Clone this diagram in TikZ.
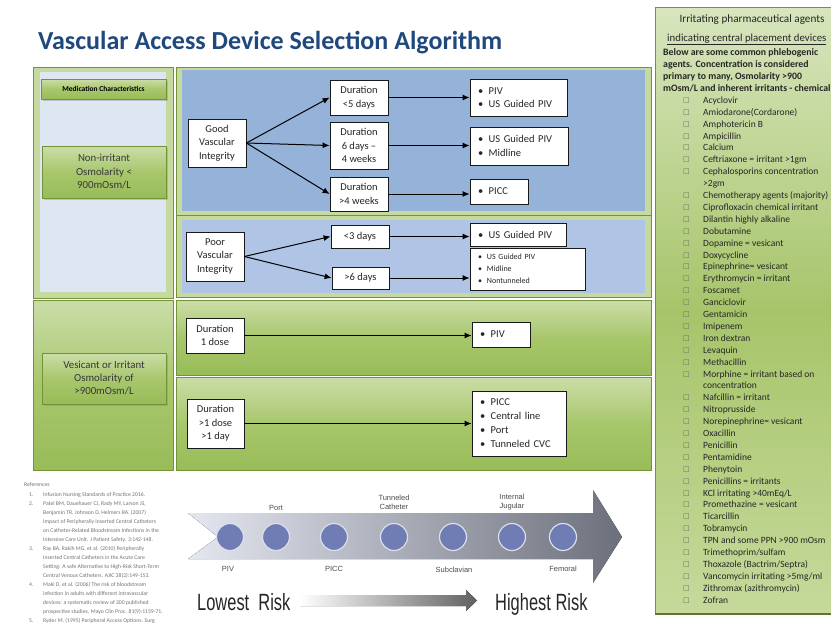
\documentclass[tikz,border=0pt]{standalone}
\usepackage{fontspec}
\setmainfont{Carlito}
\newfontfamily\arialf{Liberation Sans}
\newfontfamily\narrowf[FakeStretch=0.7]{Liberation Sans}
\newfontfamily\dvs{DejaVu Sans}
\usetikzlibrary{arrows.meta,shadows}
\newcommand\fsz[2]{\fontsize{#1}{#2}\selectfont}
\newcommand\bul{\textbullet\hspace{5.5pt}}
\definecolor{titleblue}{RGB}{31,73,125}
\definecolor{glight}{RGB}{203,221,168}
\definecolor{gmid}{RGB}{168,199,108}
\definecolor{gsat}{RGB}{152,188,88}
\definecolor{gdark}{RGB}{116,146,58}
\definecolor{blueA}{RGB}{149,179,216}
\definecolor{blueB}{RGB}{176,197,229}
\definecolor{lbg}{RGB}{221,230,241}
\definecolor{dotblue}{RGB}{112,125,180}
\definecolor{lsttop}{RGB}{216,229,190}
\definecolor{lstmid}{RGB}{166,197,106}
\definecolor{lstbot}{RGB}{198,217,155}
\begin{document}
\begin{tikzpicture}[x=1pt,y=-1pt,
  wbox/.style={draw=black!90, line width=0.8pt, fill=white, align=center, inner sep=0pt, text=black!85, font=\fsz{10.5}{13.5}},
  rbox/.style={draw=black!90, line width=0.8pt, fill=white, align=left, inner xsep=8pt, inner ysep=0pt, text=black!85, font=\fsz{10.5}{13.5}},
  gbox/.style={draw=gdark, line width=0.6pt, top color=glight, bottom color=gsat, middle color=gmid, drop shadow={shadow xshift=1.5pt, shadow yshift=-1.5pt, opacity=0.35}, align=center, inner sep=0pt, text=black!78},
  gframe/.style={draw=gdark, line width=0.8pt, fill=glight!85!gmid},
  gpanel/.style={draw=gdark, line width=0.8pt, top color=glight, bottom color=gsat, middle color=gmid},
  arr/.style={-{Latex[length=7pt,width=6pt]}, line width=1pt, black},
  dot/.style={circle, minimum size=27pt, inner sep=0pt, fill=dotblue, draw=white!75!dotblue, line width=1.2pt},
  lbl/.style={font=\arialf\fsz{7.5}{9}, text=black!70, align=center, inner sep=0pt},
  reft/.style={font=\fsz{5.7}{9}, text=black!55, inner sep=0pt, anchor=base west},
  lst/.style={font=\fsz{9.5}{12}, text=black!85, inner sep=0pt, anchor=base west},
]
\useasboundingbox (0,0) rectangle (831,627);
\fill[white] (0,0) rectangle (831,627);

% title
\node[anchor=base west, inner sep=0pt, text=titleblue, font=\fsz{26}{30}\bfseries] (title) at (38,49.5) {Vascular Access Device Selection Algorithm};

% left column
\draw[gframe] (33,67) rectangle (173,298);
\fill[lbg] (40,72) rectangle (166,292);
\node[gbox, minimum width=125pt, minimum height=20pt, font=\fsz{7.5}{9}\bfseries, text=black] (med) at (103.5,89) {Medication Characteristics};
\node[gbox, minimum width=124pt, minimum height=52pt, font=\fsz{10.8}{13.5}] (nonirr) at (104,172) {Non-irritant\\Osmolarity <\\900mOsm/L};
\draw[gpanel] (33,300) rectangle (173,470);
\node[gbox, minimum width=124pt, minimum height=51pt, font=\fsz{10.8}{13}] (ves) at (104,378.5) {Vesicant or Irritant\\Osmolarity of\\>900mOsm/L};

% right panels
\draw[gframe] (176,67) rectangle (651,215);
\fill[blueA] (182,70) rectangle (645,211);
\draw[gframe] (176,215) rectangle (651,297);
\fill[blueB] (182,220) rectangle (645,293);
\draw[gpanel] (176,300) rectangle (651,375);
\draw[gpanel] (176,377) rectangle (651,470);

% good vascular integrity
\node[wbox, minimum width=58pt, minimum height=48pt] (good) at (217,143) {Good\\Vascular\\Integrity};
\node[wbox, minimum width=58pt, minimum height=35pt] (d1) at (359,97.5) {Duration\\<5 days};
\node[wbox, minimum width=58pt, minimum height=47pt] (d2) at (359,145.5) {Duration\\6 days --\\4 weeks};
\node[wbox, minimum width=58pt, minimum height=34pt] (d3) at (359,194) {Duration\\>4 weeks};
\node[rbox, text width=81pt, minimum height=37pt] (r1) at (518.5,97.5) {\bul PIV\\\bul US Guided PIV};
\node[rbox, text width=82pt, minimum height=38pt] (r2) at (519,146) {\bul US Guided PIV\\\bul Midline};
\node[rbox, text width=42pt, minimum height=25pt] (r3) at (499,191.5) {\bul PICC};
\draw[arr] (good.east) -- (d1.west);
\draw[arr] (good.east) -- (d2.west);
\draw[arr] (good.east) -- (d3.west);
\draw[arr] (d1.east) -- (d1.east -| r1.west);
\draw[arr] (d2.east) -- (d2.east -| r2.west);
\draw[arr] (d3.east) -- (d3.east -| r3.west);

% poor vascular integrity
\node[wbox, minimum width=58pt, minimum height=49pt] (poor) at (215,256.5) {Poor\\Vascular\\Integrity};
\node[wbox, minimum width=58pt, minimum height=23pt] (e1) at (360,236.5) {<3 days};
\node[wbox, minimum width=57pt, minimum height=22pt] (e2) at (360.5,278) {>6 days};
\node[rbox, text width=80pt, minimum height=23pt] (s1) at (518,234.5) {\bul US Guided PIV};
\node[rbox, text width=99pt, minimum height=42pt, font=\fsz{8}{12}] (s2) at (527.5,269) {\textbullet\hspace{5pt}US Guided PIV\\\textbullet\hspace{5pt}Midline\\\textbullet\hspace{5pt}Nontunneled};
\draw[arr] (poor.east) -- (e1.west);
\draw[arr] (poor.east) -- (e2.west);
\draw[arr] (e1.east) -- (e1.east -| s1.west);
\draw[arr] (e2.east) -- (e2.east -| s2.west);

% vesicant
\node[wbox, minimum width=58pt, minimum height=35pt] (f1) at (215,335.5) {Duration\\1 dose};
\node[rbox, text width=42pt, minimum height=25pt] (p1) at (501,334.5) {\bul PIV};
\node[wbox, minimum width=57pt, minimum height=49pt] (f2) at (215.5,423.5) {Duration\\>1 dose\\>1 day};
\node[rbox, text width=78pt, minimum height=65pt, font=\fsz{10.5}{14}] (p2) at (519,423.5) {\bul PICC\\\bul Central line\\\bul Port\\\bul Tunneled CVC};
\draw[arr] (f1.east) -- (f1.east -| p1.west);
\draw[arr] (f2.east) -- (f2.east -| p2.west);

% risk arrow
\fill[left color={rgb,255:red,228;green,231;blue,240}, right color={rgb,255:red,108;green,112;blue,124}]
  (188,513) -- (593,513) -- (593,490) -- (622,537) -- (593,583) -- (593,559) -- (188,559) -- (218,537) -- cycle;
\foreach \x [count=\i] in {230,276,334,394,453,512,563}
  \node[dot] (c\i) at (\x,537) {};
\node[lbl] (lpiv) at (228,569) {PIV};
\node[lbl] (lport) at (276,508) {Port};
\node[lbl] (lpicc) at (334,569) {PICC};
\node[lbl] (ltun) at (394,502) {Tunneled\\Catheter};
\node[lbl] (lsub) at (454,570) {Subclavian};
\node[lbl] (lint) at (512,502) {Internal\\Jugular};
\node[lbl] (lfem) at (563,569) {Femoral};
\fill[left color=white, right color=black!62] (300,595) -- (466,595) -- (466,590) -- (477,600.5) -- (466,611) -- (466,606) -- (300,606) -- cycle;
\node[anchor=base west, inner sep=0pt, font=\narrowf\fsz{23.5}{26}, text=black!85] (low) at (197,610) {Lowest\ \ Risk};
\node[anchor=base west, inner sep=0pt, font=\narrowf\fsz{23.5}{26}, text=black!85] (high) at (495,610) {Highest Risk};

% references
\node[reft] (refh) at (24,486.5) {References};
\node[reft] (n1) at (29,496) {1.};
\node[reft] (n2) at (29,505) {2.};
\node[reft] (n3) at (29,550) {3.};
\node[reft] (n4) at (29,586) {4.};
\node[reft] (n5) at (29,622) {5.};
\node[reft] (t1) at (43,496) {Infusion Nursing Standards of Practice 2016.};
\foreach \t [count=\k from 0] in {{Patel BM, Dauehauer CJ, Rady MY, Larson JS,},{Benjamin TR, Johnson D, Helmers RA. (2007)},{Impact of Peripherally Inserted Central Catheters},{on Catheter-Related Bloodstream Infections in the},{Intensive Care Unit. J Patient Safety. 3:142-148.}}
  \node[reft] (t2l\k) at (43,505+9*\k) {\t};
\foreach \t [count=\k from 0] in {{Ray BA, Rakih MG, et al. (2010) Peripherally},{Inserted Central Catheters in the Acute Care},{Setting: A safe Alternative to High-Risk Short-Term},{Central Venous Catheters. AJIC 38(2):149-153.}}
  \node[reft] (t3l\k) at (43,550+9*\k) {\t};
\foreach \t [count=\k from 0] in {{Maki D, et al. (2006) The risk of bloodstream},{infection in adults with different intravascular},{devices: a systematic review of 200 published},{prospective studies. Mayo Clin Proc. 81(9):1159-71.}}
  \node[reft] (t4l\k) at (43,586+9*\k) {\t};
\node[reft] (t5) at (43,622) {Ryder M. (1995) Peripheral Access Options. Surg};

% list panel
\begin{scope}
\clip (0,0) rectangle (831,627);
\draw[draw=gdark, line width=0.8pt, top color=lsttop, bottom color=lstbot, middle color=lstmid] (655,7) rectangle (850,614);
\draw[gdark!80!black, line width=1.6pt] (655,614) -- (850,614);
\node[font=\fsz{11.2}{12}, text=black!85, inner sep=0pt] (lh1) at (752,20) {Irritating pharmaceutical agents};
\node[font=\fsz{10.8}{12}, text=black!85, inner sep=0pt, anchor=base west] (lh2) at (667,41) {\underline{indicating central placement devices}};
\node[lst, font=\fsz{9.8}{12}\bfseries] (b1) at (663,55.5) {Below are some common phlebogenic};
\node[lst, font=\fsz{9.8}{12}\bfseries] (b2) at (663,67.5) {agents. Concentration is considered};
\node[lst, font=\fsz{9.8}{12}\bfseries] (b3) at (663,79.5) {primary to many, Osmolarity >900};
\node[lst, font=\fsz{9.8}{12}\bfseries] (b4) at (663,91.5) {mOsm/L and inherent irritants - chemical};
\foreach \i/\t in {0/Acyclovir,1/{Amiodarone(Cordarone)},2/{Amphotericin B},3/Ampicillin,4/Calcium,5/{Ceftriaxone = irritant >1gm},6/{Cephalosporins concentration},8/{Chemotherapy agents (majority)},9/{Ciprofloxacin chemical irritant},10/{Dilantin highly alkaline},11/Dobutamine,12/{Dopamine = vesicant},13/Doxycycline,14/{Epinephrine= vesicant},15/{Erythromycin = irritant},16/Foscamet,17/Ganciclovir,18/Gentamicin,19/Imipenem,20/{Iron dextran},21/Levaquin,22/Methacillin,23/{Morphine = irritant based on},25/{Nafcillin = irritant},26/Nitroprusside,27/{Norepinephrine= vesicant},28/Oxacillin,29/Penicillin,30/Pentamidine,31/Phenytoin,32/{Penicillins = irritants},33/{KCl irritating >40mEq/L},34/{Promethazine = vesicant},35/Ticarcillin,36/Tobramycin,37/{TPN and some PPN >900 mOsm},38/{Trimethoprim/sulfam},39/{Thoxazole (Bactrim/Septra)},40/{Vancomycin irritating >5mg/ml},41/{Zithromax (azithromycin)},42/Zofran}
{
  \node[inner sep=0pt, font=\dvs\fsz{7}{8}, text=black!60] (chk\i) at (686.5,100.5+11.9*\i) {□};
  \node[lst] (drug\i) at (703,103.3+11.9*\i) {\t};
}
\node[lst] (drug7) at (703,103.3+11.9*7) {>2gm};
\node[lst] (drug24) at (703,103.3+11.9*24) {concentration};
\end{scope}
\end{tikzpicture}
\end{document}
